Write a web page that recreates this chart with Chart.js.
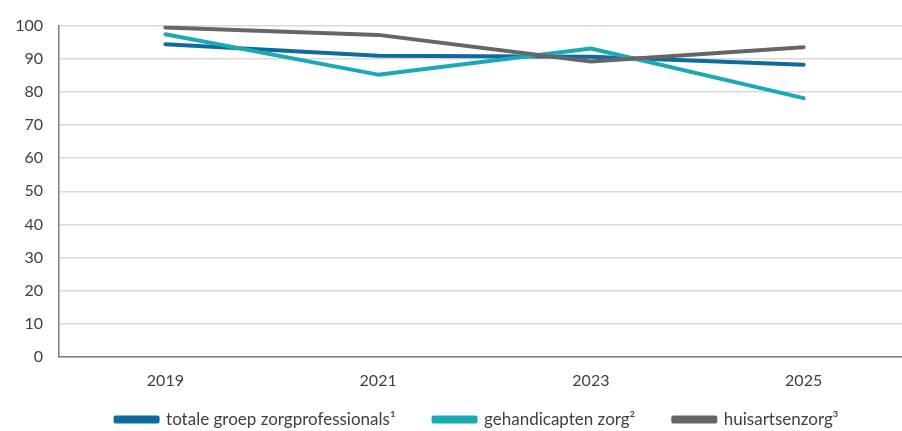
<!DOCTYPE html>
<html>
<head>
<meta charset="utf-8">
<script src="https://cdn.jsdelivr.net/npm/chart.js@4"></script>
<style>
  html, body { margin: 0; padding: 0; background: #fff; overflow: hidden; }
  #wrap { width: 910px; height: 431px; }
</style>
</head>
<body>
<div id="wrap"><canvas id="myChart"></canvas></div>
<script>
const years = ['2019', '2021', '2023', '2025'];
const totaal = [94.4, 90.9, 90.6, 88.2];
const gehandicapten = [97.4, 85.2, 93.1, 78.1];
const huisarts = [99.4, 97.2, 89.2, 93.5];
const yTicks = [0, 10, 20, 30, 40, 50, 60, 70, 80, 90, 100];

let ctx = document.getElementById('myChart').getContext('2d');

const font = { family: 'Lato, "Open Sans", sans-serif', size: 16 };

// x labels are allowed to hang into the (empty) top padding of the legend,
// and the legend sits a little right of centre
const layoutTweak = {
  id: 'layoutTweak',
  afterLayout(chart) {
    chart.scales.x.bottom += 24;
    const lg = chart.legend;
    lg.left += 22; lg.right += 22;
  }
};

let myChart = new Chart(ctx, {
  type: 'line',
  data: {
    labels: years,
    datasets: [{
      label: 'totale groep zorgprofessionals\u00b9',
      data: totaal,
      borderColor: '#0f6b9e',
      backgroundColor: '#0f6b9e',
      order: 2
    }, {
      label: 'gehandicapten zorg\u00b2',
      data: gehandicapten,
      borderColor: '#1aaab6',
      backgroundColor: '#1aaab6',
      order: 1
    }, {
      label: 'huisartsenzorg\u00b3',
      data: huisarts,
      borderColor: '#666666',
      backgroundColor: '#666666',
      order: 0
    }]
  },
  options: {
    responsive: true,
    maintainAspectRatio: false,
    animation: false,
    elements: {
      line: { borderWidth: 4, tension: 0, borderCapStyle: 'round', borderJoinStyle: 'round' },
      point: { radius: 0, hoverRadius: 0 }
    },
    layout: { padding: { top: 10, left: 0, right: 0, bottom: 0 } },
    plugins: {
      tooltip: { enabled: false },
      legend: {
        position: 'bottom',
        maxHeight: 58,
        labels: {
          sort: (a, b) => a.datasetIndex - b.datasetIndex,
          boxWidth: 42,
          boxHeight: 4,
          padding: 38,
          color: '#404040',
          font: { family: font.family, size: 17 }
        }
      }
    },
    scales: {
      x: {
        offset: true,
        afterFit: (axis) => { axis.height = 16; },
        grid: { display: false, drawTicks: false },
        border: { color: '#7f7f7f', width: 1.5 },
        ticks: { color: '#404040', font: font, padding: 14 }
      },
      y: {
        min: 0,
        max: 100,
        afterBuildTicks: (axis) => { axis.ticks = yTicks.map(v => ({ value: v })); },
        afterFit: (axis) => { axis.width = 59; },
        grid: { color: '#d9d9d9', lineWidth: 1.5, drawTicks: false },
        border: { color: '#7f7f7f', width: 1.5 },
        ticks: { color: '#404040', font: font, padding: 16 }
      }
    }
  },
  plugins: [layoutTweak]
});
</script>
</body>
</html>
